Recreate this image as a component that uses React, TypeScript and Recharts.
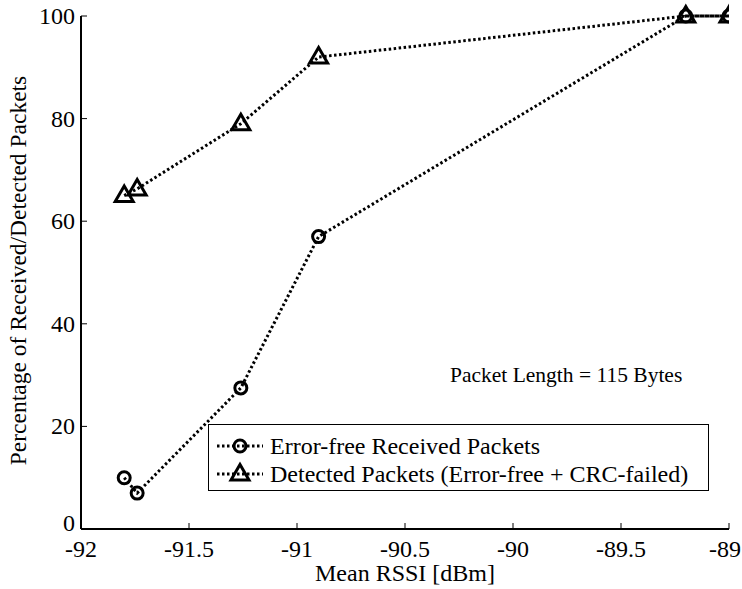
import { LineChart, Line, XAxis, YAxis, Legend, Label } from 'recharts';

// mean RSSI of each measurement run (dBm)
const rssi = [-91.8, -91.74, -91.26, -90.9, -89.2, -89.0];
// share of packets received without error (%)
const errorFree = [10, 7, 27.5, 57, 100, 100];
// share of packets detected at all, error-free or CRC-failed (%)
const detected = [65, 66.3, 79, 92, 100, 100];

const xTicks = [-92, -91.5, -91, -90.5, -90, -89.5, -89];
const yTicks = [0, 20, 40, 60, 80, 100];

const seriesNames = ['Error-free Received Packets', 'Detected Packets (Error-free + CRC-failed)'];
const note = 'Packet Length = 115 Bytes';

const WIDTH = 742;
const HEIGHT = 589;
const FONT = '"Liberation Serif", "Times New Roman", Times, serif';
const INK = '#000';
const TICK_LEN = 6;
const DOTS = '2.5 2.5';
const LINE_W = 3;
const AXIS = { stroke: INK, strokeWidth: 2 };

const data = rssi.map((x, i) => ({ rssi: x, errorFree: errorFree[i], detected: detected[i] }));

function CircleMarker({ cx, cy }: { cx: number; cy: number }) {
  return <circle cx={cx} cy={cy} r={6} fill="none" stroke={INK} strokeWidth={3} />;
}

function TriangleMarker({ cx, cy }: { cx: number; cy: number }) {
  const pts = `${cx},${cy - 9.5} ${cx - 9},${cy + 6} ${cx + 9},${cy + 6}`;
  return <polygon points={pts} fill="none" stroke={INK} strokeWidth={3} strokeLinejoin="miter" />;
}

// ticks point inward, like a boxed MATLAB axis
function BottomTick({ x, y, payload }: any) {
  // keep the last label inside the canvas
  const tx = Math.min(x, WIDTH - 17);
  return (
    <g>
      <line x1={x} x2={x} y1={y} y2={y - TICK_LEN} stroke={INK} />
      <text x={tx} y={y + 28} textAnchor="middle" fontFamily={FONT} fontSize={24} fill={INK}>
        {String(payload.value)}
      </text>
    </g>
  );
}

function LeftTick({ x, y, payload }: any) {
  // the corner label sits a little higher so it clears the x labels
  const dy = payload.value === 0 ? 2 : 8;
  return (
    <g>
      <line x1={x} x2={x + TICK_LEN} y1={y} y2={y} stroke={INK} />
      <text x={x - 6} y={y + dy} textAnchor="end" fontFamily={FONT} fontSize={24} fill={INK}>
        {String(payload.value)}
      </text>
    </g>
  );
}

function TopTick({ x, y }: any) {
  return <line x1={x} x2={x} y1={y} y2={y + TICK_LEN} stroke={INK} />;
}

function RightTick({ x, y }: any) {
  return <line x1={x} x2={x - TICK_LEN} y1={y} y2={y} stroke={INK} />;
}

function YTitle({ viewBox }: any) {
  const cy = viewBox.y + viewBox.height / 2 - 2;
  return (
    <text
      x={18}
      y={cy}
      transform={`rotate(-90 18 ${cy})`}
      textAnchor="middle"
      dominantBaseline="central"
      fontFamily={FONT}
      fontSize={23.5}
      fill={INK}
    >
      Percentage of Received/Detected Packets
    </text>
  );
}

function LegendBox() {
  const markers = [CircleMarker, TriangleMarker];
  return (
    <div
      style={{
        border: '1.5px solid #000',
        background: '#fff',
        width: 501,
        height: 67,
        padding: '7px 0 0 6px',
        boxSizing: 'border-box',
        fontFamily: FONT,
        fontSize: 24,
        color: INK,
      }}
    >
      {seriesNames.map((name, i) => {
        const Marker = markers[i];
        return (
          <div key={name} style={{ display: 'flex', alignItems: 'center', height: 28, whiteSpace: 'nowrap' }}>
            <svg width={50} height={28} style={{ flex: 'none' }}>
              <line x1={2} x2={48} y1={14} y2={14} stroke={INK} strokeWidth={LINE_W} strokeDasharray={DOTS} />
              <Marker cx={25} cy={14} />
            </svg>
            <span style={{ marginLeft: 5, lineHeight: '28px' }}>{name}</span>
          </div>
        );
      })}
    </div>
  );
}

export default function App() {
  return (
    <div style={{ position: 'absolute', left: 0, top: 0, width: WIDTH, height: HEIGHT, background: '#fff' }}>
      <LineChart width={WIDTH} height={HEIGHT} data={data} margin={{ top: 16, right: 13, bottom: 0, left: 0 }}>
        <XAxis
          dataKey="rssi"
          type="number"
          domain={[-92, -89]}
          ticks={xTicks}
          height={60}
          tickSize={0}
          tickMargin={0}
          tick={BottomTick}
          axisLine={AXIS}
          tickLine={false}
          allowDataOverflow
        >
          <Label value="Mean RSSI [dBm]" position="insideBottom" offset={8} fill={INK} fontFamily={FONT} fontSize={24} />
        </XAxis>
        <XAxis
          xAxisId="top"
          orientation="top"
          dataKey="rssi"
          type="number"
          domain={[-92, -89]}
          ticks={xTicks}
          height={0}
          tickSize={0}
          tickMargin={0}
          tick={TopTick}
          axisLine={AXIS}
          tickLine={false}
        />
        <YAxis
          type="number"
          domain={[0, 100]}
          ticks={yTicks}
          width={81}
          tickSize={0}
          tickMargin={0}
          tick={LeftTick}
          axisLine={AXIS}
          tickLine={false}
        >
          <Label content={YTitle} />
        </YAxis>
        <YAxis
          yAxisId="right"
          orientation="right"
          type="number"
          domain={[0, 100]}
          ticks={yTicks}
          width={0}
          tickSize={0}
          tickMargin={0}
          tick={RightTick}
          axisLine={AXIS}
          tickLine={false}
        />
        <Legend
          layout="vertical"
          align="center"
          verticalAlign="middle"
          content={LegendBox}
          wrapperStyle={{ left: 208, top: 424, width: 501, height: 67 }}
        />
        <Line
          dataKey="errorFree"
          name={seriesNames[0]}
          stroke={INK}
          strokeWidth={LINE_W}
          strokeDasharray={DOTS}
          dot={(p: any) => <CircleMarker key={`e${p.index}`} cx={p.cx} cy={p.cy} />}
          activeDot={false}
          isAnimationActive={false}
        />
        <Line
          dataKey="detected"
          name={seriesNames[1]}
          stroke={INK}
          strokeWidth={LINE_W}
          strokeDasharray={DOTS}
          dot={(p: any) => <TriangleMarker key={`d${p.index}`} cx={p.cx} cy={p.cy} />}
          activeDot={false}
          isAnimationActive={false}
        />
      </LineChart>
      <div
        style={{
          position: 'absolute',
          left: 450,
          top: 363,
          fontFamily: FONT,
          fontSize: 21.5,
          lineHeight: '24px',
          color: INK,
          whiteSpace: 'nowrap',
        }}
      >
        {note}
      </div>
    </div>
  );
}
